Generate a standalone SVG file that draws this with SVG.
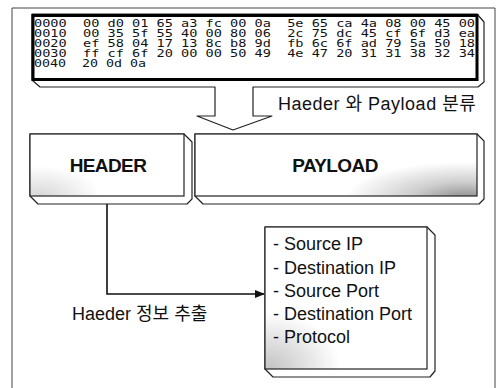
<svg xmlns="http://www.w3.org/2000/svg" width="497" height="388" viewBox="0 0 497 388">
<defs>
<style>
.frame{fill:none;stroke:#444;stroke-width:1}
.bevel{fill:#fff;stroke:#222;stroke-width:1.2;stroke-linejoin:round}
.face{stroke:#222;stroke-width:1.2}
.hexface{fill:#fff;stroke:#000;stroke-width:3}
.hex{font-family:"DejaVu Sans Mono","Liberation Mono",monospace;font-size:10px;fill:#111}
.lbl{font-family:"Liberation Sans","Noto Sans CJK KR",sans-serif;font-size:18px;fill:#111}
.big{font-family:"Liberation Sans",Arial,sans-serif;font-size:19px;font-weight:bold;fill:#111;text-anchor:middle;letter-spacing:-0.6px}
.conn{fill:none;stroke:#111;stroke-width:1.6}
</style>
<radialGradient id="gPay" gradientUnits="userSpaceOnUse" cx="465" cy="198" r="120" gradientTransform="translate(465 198) scale(1 0.3) translate(-465 -198)">
<stop offset="0" stop-color="#8e8e8e"/><stop offset="0.45" stop-color="#cfcfcf"/><stop offset="1" stop-color="#fff"/>
</radialGradient>
<radialGradient id="gHead" gradientUnits="userSpaceOnUse" cx="40" cy="196" r="60" gradientTransform="translate(40 196) scale(1 0.5) translate(-40 -196)">
<stop offset="0" stop-color="#d8d8d8"/><stop offset="1" stop-color="#fff"/>
</radialGradient>
<radialGradient id="gList" gradientUnits="userSpaceOnUse" cx="270" cy="368" r="70" gradientTransform="translate(270 368) scale(1 0.8) translate(-270 -368)">
<stop offset="0" stop-color="#c4c4c4"/><stop offset="1" stop-color="#fff"/>
</radialGradient>
<marker id="arr" markerWidth="10" markerHeight="8" refX="9" refY="4" orient="auto" markerUnits="userSpaceOnUse">
<path d="M0,0 L10,4 L0,8 Z" fill="#111"/>
</marker>
</defs>

<path class="frame" d="M12,400 V8 H495 V400"/>

<g id="hexdump">
<path class="bevel" d="M32,14 H477 L484,22 V82 L478,87 H253 V116 H272 L233,130 L197,116 H215 V87 H40 L32,80 Z"/>
<rect class="hexface" x="33" y="15.5" width="444" height="64"/>
<text class="hex" xml:space="preserve" x="34" y="27" textLength="441" lengthAdjust="spacingAndGlyphs">0000  00 d0 01 65 a3 fc 00 0a  5e 65 ca 4a 08 00 45 00</text>
<text class="hex" xml:space="preserve" x="34" y="37" textLength="441" lengthAdjust="spacingAndGlyphs">0010  00 35 5f 55 40 00 80 06  2c 75 dc 45 cf 6f d3 ea</text>
<text class="hex" xml:space="preserve" x="34" y="47" textLength="441" lengthAdjust="spacingAndGlyphs">0020  ef 58 04 17 13 8c b8 9d  fb 6c 6f ad 79 5a 50 18</text>
<text class="hex" xml:space="preserve" x="34" y="57" textLength="441" lengthAdjust="spacingAndGlyphs">0030  ff cf 6f 20 00 00 50 49  4e 47 20 31 31 38 32 34</text>
<text class="hex" xml:space="preserve" x="34" y="67" textLength="112" lengthAdjust="spacingAndGlyphs">0040  20 0d 0a</text>
<text class="lbl" x="278" y="110" letter-spacing="0.5">Haeder 와 Payload 분류</text>
</g>

<g id="header">
<path class="bevel" d="M30,134 H184 L192,142 V199 L187,204 H38 L30,196 Z"/>
<rect class="face" x="30" y="134" width="154" height="62" fill="url(#gHead)"/>
<text class="big" x="108" y="172">HEADER</text>
</g>

<g id="payload">
<path class="bevel" d="M195,134 H477 L484,141 V199 L479,204 H203 L195,196 Z"/>
<rect class="face" x="195" y="134" width="282" height="62" fill="url(#gPay)"/>
<text class="big" x="335" y="172">PAYLOAD</text>
</g>

<g id="fields">
<path class="bevel" d="M265,227 H427 L435,235 V371 L430,377 H273 L265,369 Z"/>
<rect class="face" x="265" y="227" width="162" height="142" fill="url(#gList)"/>
<text class="lbl" x="273" y="250">- Source IP</text>
<text class="lbl" x="273" y="274">- Destination IP</text>
<text class="lbl" x="273" y="297">- Source Port</text>
<text class="lbl" x="273" y="320">- Destination Port</text>
<text class="lbl" x="273" y="343">- Protocol</text>
</g>

<g id="connectors">
<path class="conn" d="M107,204 V294 H264" marker-end="url(#arr)"/>
<text class="lbl" x="72" y="320">Haeder 정보 추출</text>
</g>
</svg>
